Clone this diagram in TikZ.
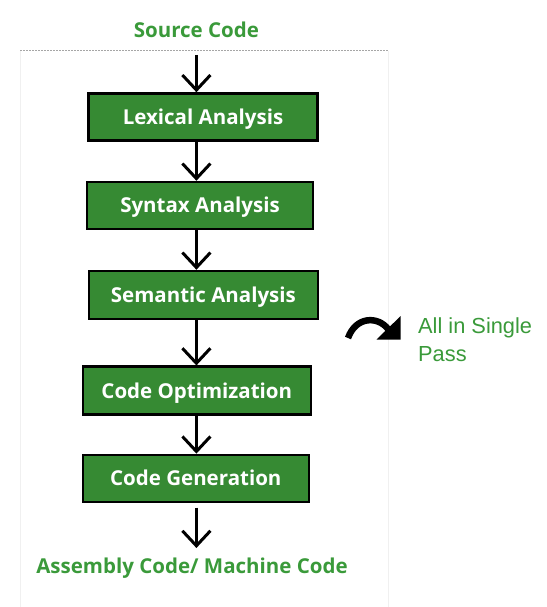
\documentclass[tikz,border=0pt]{standalone}
\usepackage{fontspec}
\setmainfont{Open Sans}
\newfontfamily\passfont{Liberation Sans}
\usetikzlibrary{arrows.meta}
\definecolor{boxgreen}{HTML}{368A33}
\definecolor{txtgreen}{HTML}{3A9A3A}
\tikzset{
  stage/.style={draw=black, line width=2.5pt, fill=boxgreen, text=white, font=\fontsize{20.5}{24}\selectfont\bfseries, inner sep=0pt, text height=14.6pt, text depth=0pt},
  flow/.style={line width=3pt, -{Straight Barb[length=15pt,width=28pt,line width=3pt]}},
  endtext/.style={text=txtgreen, font=\fontsize{20.5}{24}\selectfont\bfseries, inner sep=0pt, anchor=base},
}
\begin{document}
\begin{tikzpicture}[x=1pt,y=-1pt]
\useasboundingbox (0,0) rectangle (546,607);
% faint frame
\draw[gray!12, line width=1pt] (20,51) -- (20,607);
\draw[gray!12, line width=1pt] (388,51) -- (388,607);
\draw[gray!70, line width=1.6pt, dash pattern=on 1.6pt off 1.4pt] (20,50.5) -- (388,50.5);

\node[endtext] (src) at (196.4,37.5) {Source Code};
\node[stage, minimum width=229pt, minimum height=47pt] (lex) at (203,117) {Lexical Analysis};
\node[stage, minimum width=226pt, minimum height=47pt] (syn) at (200,205.5) {Syntax Analysis};
\node[stage, minimum width=229pt, minimum height=48pt] (sem) at (203.4,295) {Semantic Analysis};
\node[stage, minimum width=228pt, minimum height=48pt] (opt) at (196.8,390.7) {Code Optimization};
\node[stage, minimum width=226pt, minimum height=47pt] (gen) at (195.8,478.4) {Code Generation};
\node[endtext] (out) at (192,573.5) {Assembly Code/ Machine Code};

\coordinate (a0) at (196.4,55);
\coordinate (a5) at (196.4,507.5);
\coordinate (a6) at (196.4,548);
\draw[flow] (a0) -- (a0 |- lex.north);
\draw[flow] (lex.south -| a0) -- (a0 |- syn.north);
\draw[flow] (syn.south -| a0) -- (a0 |- sem.north);
\draw[flow] (sem.south -| a0) -- (a0 |- opt.north);
\draw[flow] (opt.south -| a0) -- (a0 |- gen.north);
\draw[flow] (a5) -- (a6);

% curved arrow
\coordinate (c0) at (348,338);
\coordinate (c1) at (388,329);
\draw[line width=6.5pt] (c0) .. controls (356,316) and (378,316) .. (c1);
\fill (376.5,339.5) -- (400.7,316) -- (400.7,339.5) -- cycle;

\node[anchor=north west, align=left, text=txtgreen, inner sep=0pt, font=\passfont\fontsize{21.8}{28}\selectfont] (pass) at (418,317) {All in Single\\Pass};
\end{tikzpicture}
\end{document}
